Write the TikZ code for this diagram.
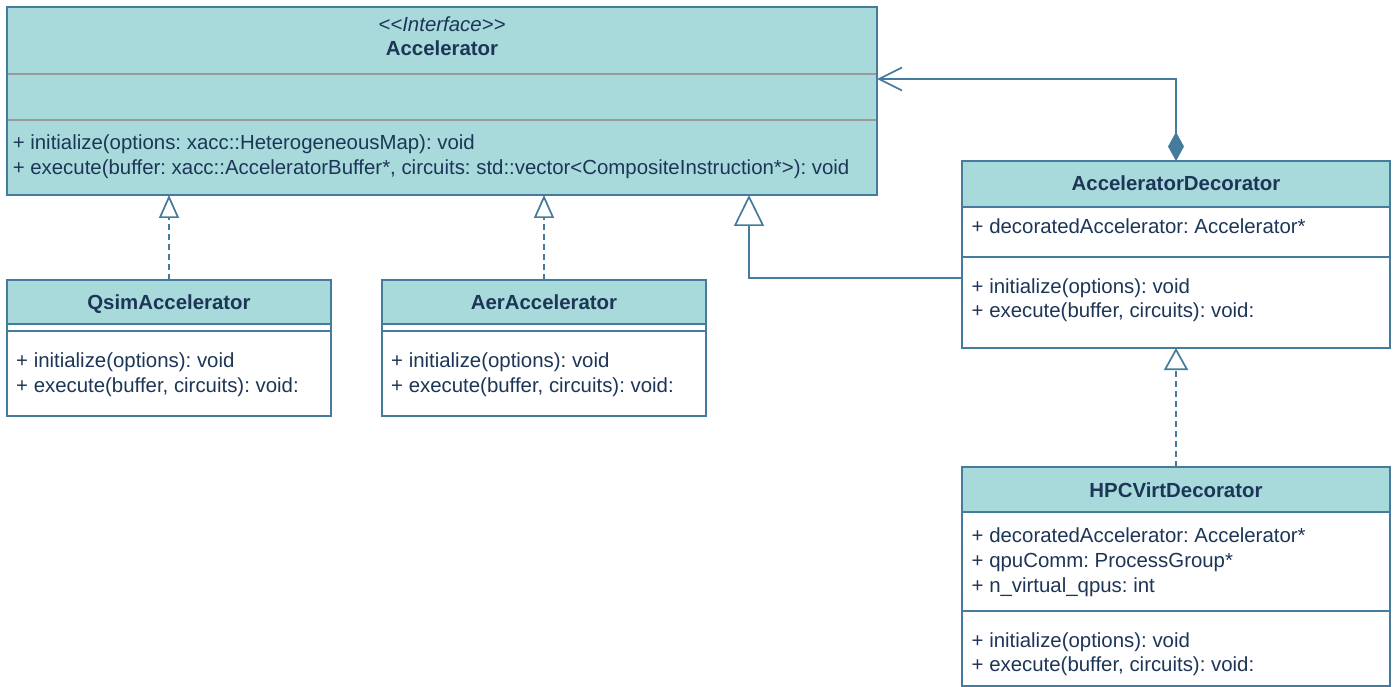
\documentclass[tikz,border=0pt]{standalone}
\usepackage{fontspec}
\setmainfont{Liberation Sans}
\usetikzlibrary{arrows.meta}
\definecolor{umlfill}{HTML}{A8DADC}
\definecolor{umlline}{HTML}{457B9D}
\definecolor{umltext}{HTML}{1D3557}
\definecolor{umlgray}{HTML}{9A9A9A}
\frenchspacing
\begin{document}
\begin{tikzpicture}[x=1pt,y=-1pt,
  box/.style={draw=umlline, line width=1.7pt, inner sep=0pt, outer sep=0pt, anchor=north west},
  edge/.style={draw=umlline, line width=1.7pt},
  txt/.style={text=umltext, inner sep=0pt, anchor=base west, font=\fontsize{20.4}{25}\selectfont},
  ttl/.style={text=umltext, inner sep=0pt, anchor=base, font=\bfseries\fontsize{20.4}{25}\selectfont},
  stereo/.style={text=umltext, inner sep=0pt, anchor=base, font=\itshape\fontsize{20.4}{25}\selectfont},
  conn/.style={draw=umlline, line width=1.7pt},
  real/.style={conn, dash pattern=on 6pt off 4pt}
]
\useasboundingbox (0,0) rectangle (1395,687);
\fill[white] (0,0) rectangle (1395,687);

% Accelerator interface
\node[box, fill=umlfill, minimum width=870pt, minimum height=188pt] (acc) at (7,7) {};
\draw[umlgray, line width=1.7pt] (7.85,74) -- (876.15,74);
\draw[umlgray, line width=1.7pt] (7.85,120) -- (876.15,120);
\node[stereo] (accst) at (442,32) {{<}{<}Interface{>}{>}};
\node[ttl] (acct) at (442,56) {Accelerator};
\node[txt] (accm1) at (12.6,150) {+ initialize(options: xacc::HeterogeneousMap): void};
\node[txt] (accm2) at (12.6,175) {+ execute(buffer: xacc::AcceleratorBuffer*, circuits: std::vector{<}CompositeInstruction*{>}): void};

% QsimAccelerator
\node[box, fill=white, minimum width=324pt, minimum height=136pt] (qsim) at (7,280) {};
\fill[umlfill] (7,280) rectangle (331,324);
\draw[edge] (7,324) -- (331,324);
\draw[edge] (7,331) -- (331,331);
\draw[edge] (qsim.north west) rectangle (qsim.south east);
\node[ttl] (qsimt) at (169,309) {QsimAccelerator};
\node[txt] (qsimm1) at (16,367.5) {+ initialize(options): void};
\node[txt] (qsimm2) at (16,392) {+ execute(buffer, circuits): void:};

% AerAccelerator
\node[box, fill=white, minimum width=324pt, minimum height=136pt] (aer) at (382,280) {};
\fill[umlfill] (382,280) rectangle (706,324);
\draw[edge] (382,324) -- (706,324);
\draw[edge] (382,331) -- (706,331);
\draw[edge] (aer.north west) rectangle (aer.south east);
\node[ttl] (aert) at (544,309) {AerAccelerator};
\node[txt] (aerm1) at (391,367.5) {+ initialize(options): void};
\node[txt] (aerm2) at (391,392) {+ execute(buffer, circuits): void:};

% AcceleratorDecorator
\node[box, fill=white, minimum width=428pt, minimum height=187pt] (dec) at (962,161) {};
\fill[umlfill] (962,161) rectangle (1390,207);
\draw[edge] (962,207) -- (1390,207);
\draw[edge] (962,257) -- (1390,257);
\draw[edge] (dec.north west) rectangle (dec.south east);
\node[ttl] (dect) at (1176,191) {AcceleratorDecorator};
\node[txt] (deca1) at (971.5,234) {+ decoratedAccelerator: Accelerator*};
\node[txt] (decm1) at (971.5,293) {+ initialize(options): void};
\node[txt] (decm2) at (971.5,317) {+ execute(buffer, circuits): void:};

% HPCVirtDecorator
\node[box, fill=white, minimum width=428pt, minimum height=219pt] (hpc) at (962,467) {};
\fill[umlfill] (962,467) rectangle (1390,512);
\draw[edge] (962,512) -- (1390,512);
\draw[edge] (962,611) -- (1390,611);
\draw[edge] (hpc.north west) rectangle (hpc.south east);
\node[ttl] (hpct) at (1176,497) {HPCVirtDecorator};
\node[txt] (hpca1) at (971.5,542) {+ decoratedAccelerator: Accelerator*};
\node[txt] (hpca2) at (971.5,567) {+ qpuComm: ProcessGroup*};
\node[txt] (hpca3) at (971.5,592) {+ n\_virtual\_qpus: int};
\node[txt] (hpcm1) at (971.5,647) {+ initialize(options): void};
\node[txt] (hpcm2) at (971.5,671.5) {+ execute(buffer, circuits): void:};

% connectors
\coordinate (gy) at (0,278);
\coordinate (gx) at (749,0);
\coordinate (ay) at (0,79);
\draw[real, -{Triangle[open, fill=white, length=23pt, width=20pt]}] (qsim.north) -- (qsim.north |- acc.south);
\draw[real, -{Triangle[open, fill=white, length=23pt, width=20pt]}] (aer.north) -- (aer.north |- acc.south);
\draw[conn, -{Triangle[open, fill=white, length=31pt, width=30pt]}] (dec.west |- gy) -| (acc.south -| gx);
\draw[real, -{Triangle[open, fill=white, length=22pt, width=24pt]}] (hpc.north) -- (hpc.north |- dec.south);
\draw[conn, {Diamond[length=29pt, width=16pt, fill=umlline]}-{Straight Barb[length=23pt, width=23pt]}] (dec.north) |- (acc.east |- ay);
\end{tikzpicture}
\end{document}
